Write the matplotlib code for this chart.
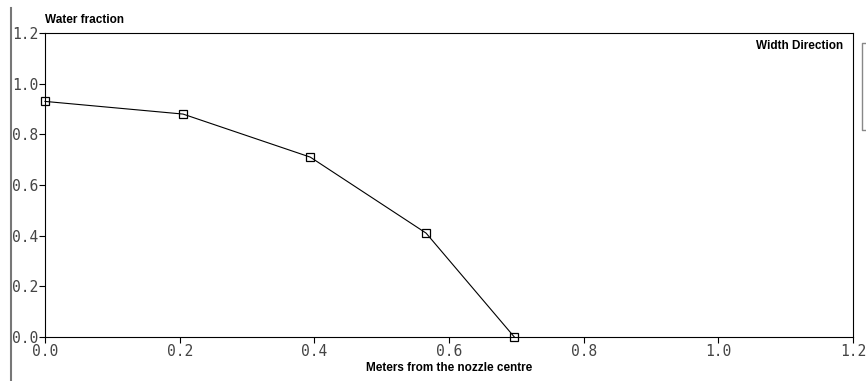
import matplotlib

matplotlib.use("Agg")
import matplotlib.pyplot as plt
from matplotlib.lines import Line2D

# 数据
dist = [0.0, 0.205, 0.394, 0.566, 0.697]
water = [0.93, 0.88, 0.71, 0.41, 0.0]
ticks = [0.0, 0.2, 0.4, 0.6, 0.8, 1.0, 1.2]

W, H = 866, 381
fig = plt.figure(figsize=(W / 100, H / 100), dpi=100)
ax = fig.add_axes([45 / W, 1 - 337 / H, (853 - 45) / W, (337 - 33) / H])

ax.plot(dist, water, color="black", lw=0.8, marker="s", ms=6,
        mfc="none", mec="black", mew=0.9, clip_on=False)
ax.set_xlim(0, 1.2)
ax.set_ylim(0, 1.2)
ax.set_xticks(ticks)
ax.set_yticks(ticks)
ax.set_xticklabels([f"{t:.1f}" for t in ticks])
ax.set_yticklabels([f"{t:.1f}" for t in ticks])
ax.tick_params(direction="out", length=4, width=0.8, pad=1,
               labelsize=10.5, labelcolor="#444444")
for lab in ax.get_xticklabels() + ax.get_yticklabels():
    lab.set_fontfamily("DejaVu Sans Mono")
for s in ax.spines.values():
    s.set_linewidth(0.8)

bold = dict(family=["Liberation Sans", "DejaVu Sans"], weight="bold", fontsize=8.5)
fig.text(45 / W, 1 - 20 / H, "Water fraction", ha="left", va="center", **bold)
fig.text(843 / W, 1 - 46 / H, "Width Direction", ha="right", va="center", **bold)
fig.text(449 / W, 1 - 368 / H, "Meters from the nozzle centre", ha="center", va="center", **bold)

# 外框残留
fig.add_artist(Line2D([11 / W, 11 / W], [0, 1 - 8 / H], color="#777777", lw=1.5))
fig.add_artist(Line2D([866 / W, 862 / W, 862 / W, 866 / W],
                      [1 - 43 / H, 1 - 43 / H, 1 - 130 / H, 1 - 130 / H],
                      color="#888888", lw=1))

fig.savefig("out.png", dpi=100)
